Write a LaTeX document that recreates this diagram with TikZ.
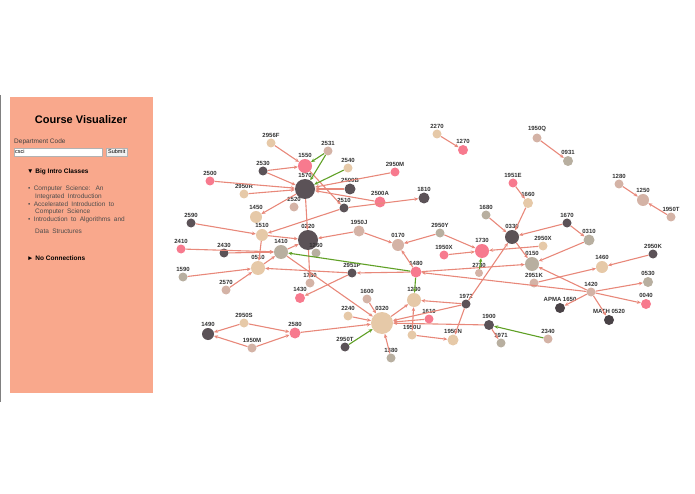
\documentclass[tikz,border=0pt]{standalone}
\usepackage{fontspec}
\setmainfont{Liberation Sans}
\usetikzlibrary{arrows.meta}
\definecolor{sidebar}{HTML}{F9A88C}
\definecolor{cpink}{HTML}{F77A8E}
\definecolor{cdark}{HTML}{5B5257}
\definecolor{ctan}{HTML}{E6C9A8}
\definecolor{crose}{HTML}{D4B3A6}
\definecolor{cgray}{HTML}{B8AFA0}
\definecolor{cedge}{HTML}{E8887A}
\definecolor{cgreen}{HTML}{5FA025}
\tikzset{
  course/.style={circle, inner sep=0pt, minimum size=9pt, label={[font=\fontsize{6}{6}\selectfont\bfseries, text=black!80, inner sep=1pt]above:#1}},
  big/.style={minimum size=14pt},
  huge/.style={minimum size=20pt},
  prereq/.style={cedge, line width=1.1pt, -{Stealth[length=4pt,width=3.5pt]}},
  coreq/.style={cgreen, line width=1.1pt, -{Stealth[length=4pt,width=3.5pt]}}
}
\begin{document}
\begin{tikzpicture}[x=1pt, y=-1pt]
\useasboundingbox (0,0) rectangle (695,494);
% side panel
\draw[gray, line width=0.8pt] (0.5,95) -- (0.5,402);
\fill[sidebar] (10,97) rectangle (153,393);
\node (title) at (81,120) {\fontsize{11}{11}\selectfont\bfseries Course Visualizer};
\node (dept) [anchor=west, text=black!75, inner sep=0pt] at (14,142) {\fontsize{6.5}{6.5}\selectfont Department Code};
\node (field) [draw=gray!60, fill=white, minimum width=88pt, minimum height=8pt, inner sep=0pt, anchor=west, text width=86pt] at (14,152) {\fontsize{5.5}{5.5}\selectfont csci};
\node (submit) [draw=gray!60, fill=gray!10, minimum height=8pt, inner sep=2pt, anchor=west] at (106,152) {\fontsize{5.5}{5.5}\selectfont Submit};
\node (intro) [anchor=west, inner sep=0pt] at (27,172) {\fontsize{6.5}{6.5}\selectfont\bfseries ▼ Big Intro Classes};
\node (list) [anchor=north west, inner sep=0pt, text width=112pt, text=black!70] at (28,186) {\fontsize{6.5}{7.6}\selectfont
  \textbullet\ Computer Science: An\\\hspace*{7pt}Integrated Introduction\\
  \textbullet\ Accelerated Introduction to\\\hspace*{7pt}Computer Science\\
  \textbullet\ Introduction to Algorithms and\\\hspace*{7pt}Data Structures};
\node (noconn) [anchor=west, inner sep=0pt] at (27,258) {\fontsize{6.5}{6.5}\selectfont\bfseries ► No Connections};
% course nodes
\node (c2956F) [course=2956F, fill=ctan] at (271,143) {};
\node (c2531) [course=2531, fill=crose] at (328,151) {};
\node (c1550) [course=1550, fill=cpink, big] at (305,166) {};
\node (c2540) [course=2540, fill=ctan] at (348,168) {};
\node (c2530) [course=2530, fill=cdark] at (263,171) {};
\node (c2950M) [course=2950M, fill=cpink] at (395,172) {};
\node (c2500) [course=2500, fill=cpink] at (210,181) {};
\node (c1570) [course=1570, fill=cdark, huge] at (305,189) {};
\node (c2500B) [course=2500B, fill=cdark, minimum size=11pt] at (350,189) {};
\node (c2950R) [course=2950R, fill=ctan] at (244,194) {};
\node (c2520) [course=2520, fill=crose] at (294,207) {};
\node (c2500A) [course=2500A, fill=cpink, minimum size=11pt] at (380,202) {};
\node (c2510) [course=2510, fill=cdark] at (344,208) {};
\node (c1810) [course=1810, fill=cdark, minimum size=11pt] at (424,198) {};
\node (c1450) [course=1450, fill=ctan, minimum size=12pt] at (256,217) {};
\node (c2590) [course=2590, fill=cdark] at (191,223) {};
\node (c1510) [course=1510, fill=ctan, minimum size=12pt] at (262,235) {};
\node (c1950J) [course=1950J, fill=crose, minimum size=11pt] at (359,231) {};
\node (c0220) [course=0220, fill=cdark, huge] at (308,240) {};
\node (c2410) [course=2410, fill=cpink] at (181,249) {};
\node (c2430) [course=2430, fill=cdark] at (224,253) {};
\node (c1410) [course=1410, fill=cgray, big] at (281,252) {};
\node (c1260) [course=1260, fill=cgray] at (316,253) {};
\node (c0170) [course=0170, fill=crose, minimum size=12pt] at (398,245) {};
\node (c0510) [course=0510, fill=ctan, big] at (258,268) {};
\node (c1590) [course=1590, fill=cgray] at (183,277) {};
\node (c2951P) [course=2951P, fill=cdark] at (352,273) {};
\node (c1780) [course=1780, fill=crose] at (310,283) {};
\node (c2570) [course=2570, fill=crose] at (226,290) {};
\node (c1430) [course=1430, fill=cpink, minimum size=10pt] at (300,298) {};
\node (c1480) [course=1480, fill=cpink, minimum size=11pt] at (416,272) {};
\node (c1600) [course=1600, fill=crose] at (367,299) {};
\node (c1230) [course=1230, fill=ctan, big] at (414,300) {};
\node (c2240) [course=2240, fill=ctan] at (348,316) {};
\node (c0320) [course=0320, fill=ctan, huge, minimum size=22pt] at (382,323) {};
\node (c1610) [course=1610, fill=cpink] at (429,319) {};
\node (c2950S) [course=2950S, fill=ctan] at (244,323) {};
\node (c2580) [course=2580, fill=cpink, minimum size=11pt] at (295,333) {};
\node (c1490) [course=1490, fill=cdark, minimum size=12pt] at (208,334) {};
\node (c1950M) [course=1950M, fill=crose] at (252,348) {};
\node (c2950T) [course=2950T, fill=cdark] at (345,347) {};
\node (c1950U) [course=1950U, fill=ctan] at (412,335) {};
\node (c1380) [course=1380, fill=cgray] at (391,358) {};
\node (c2270) [course=2270, fill=ctan] at (437,134) {};
\node (c1270) [course=1270, fill=cpink, minimum size=10pt] at (463,150) {};
\node (c1950Q) [course=1950Q, fill=crose] at (537,138) {};
\node (c0931) [course=0931, fill=cgray, minimum size=10pt] at (568,161) {};
\node (c1951E) [course=1951E, fill=cpink] at (513,183) {};
\node (c1660) [course=1660, fill=ctan, minimum size=10pt] at (528,203) {};
\node (c1280) [course=1280, fill=crose] at (619,184) {};
\node (c1250) [course=1250, fill=crose, minimum size=12pt] at (643,200) {};
\node (c1950T) [course=1950T, fill=crose] at (671,217) {};
\node (c1680) [course=1680, fill=cgray] at (486,215) {};
\node (c1670) [course=1670, fill=cdark] at (567,223) {};
\node (c0330) [course=0330, fill=cdark, big] at (512,237) {};
\node (c0310) [course=0310, fill=cgray, minimum size=11pt] at (589,240) {};
\node (c2950Y) [course=2950Y, fill=cgray] at (440,233) {};
\node (c1730) [course=1730, fill=cpink, big] at (482,251) {};
\node (c1950X) [course=1950X, fill=cpink] at (444,255) {};
\node (c2950X) [course=2950X, fill=ctan] at (543,246) {};
\node (c0150) [course=0150, fill=cgray, big] at (532,264) {};
\node (c2950K) [course=2950K, fill=cdark] at (653,254) {};
\node (c1460) [course=1460, fill=ctan, minimum size=12pt] at (602,267) {};
\node (c2730) [course=2730, fill=crose, minimum size=8pt] at (479,273) {};
\node (c2951K) [course=2951K, fill=crose] at (534,283) {};
\node (c0530) [course=0530, fill=cgray, minimum size=10pt] at (648,282) {};
\node (c1420) [course=1420, fill=crose] at (591,292) {};
\node (c0040) [course=0040, fill=cpink, minimum size=10pt] at (646,304) {};
\node (cAPMA) [course=APMA 1650, fill=cdark!80!black, minimum size=10pt] at (560,308) {};
\node (cMATH) [course=MATH 0520, fill=cdark!80!black, minimum size=10pt] at (609,320) {};
\node (c1972) [course=1972, fill=cdark] at (466,304) {};
\node (c1900) [course=1900, fill=cdark, minimum size=10pt] at (489,325) {};
\node (c1950N) [course=1950N, fill=ctan, minimum size=11pt] at (453,340) {};
\node (c1971) [course=1971, fill=cgray] at (501,343) {};
\node (c2340) [course=2340, fill=crose] at (548,339) {};
% prerequisites
\begin{scope}[on background layer/.style={}]
\draw [prereq] (c2956F) -- (c1550);
\draw [prereq] (c2530) -- (c1550);
\draw [prereq] (c2530) -- (c1570);
\draw [prereq] (c2500) -- (c1570);
\draw [prereq] (c2950R) -- (c1570);
\draw [prereq] (c2500B) -- (c1570);
\draw [prereq] (c2950M) -- (c1570);
\draw [prereq] (c2500A) -- (c1570);
\draw [prereq] (c1570) -- (c1450);
\draw [prereq] (c1550) -- (c2510);
\draw [prereq] (c2510) -- (c1810);
\draw [prereq] (c2510) -- (c1510);
\draw [prereq] (c1570) -- (c0220);
\draw [prereq] (c1950J) -- (c0220);
\draw [prereq] (c1950J) -- (c0170);
\draw [prereq] (c2590) -- (c1510);
\draw [prereq] (c1510) -- (c0220);
\draw [prereq] (c1510) -- (c0510);
\draw [prereq] (c2410) -- (c1410);
\draw [prereq] (c2430) -- (c1410);
\draw [prereq] (c1410) -- (c0220);
\draw [prereq] (c0220) -- (c1780);
\draw [prereq] (c1590) -- (c0510);
\draw [prereq] (c2570) -- (c0510);
\draw [prereq] (c0510) -- (c1410);
\draw [prereq] (c2951P) -- (c0510);
\draw [prereq] (c1480) -- (c2951P);
\draw [prereq] (c2951P) -- (c1430);
\draw [prereq] (c1410) -- (c0320);
\draw [prereq] (c1480) -- (c0170);
\draw [prereq] (c2950Y) -- (c0170);
\draw [prereq] (c2950Y) -- (c1730);
\draw [prereq] (c1950X) -- (c1730);
\draw [prereq] (c2950X) -- (c1730);
\draw [prereq] (c1480) -- (c0150);
\draw [prereq] (c1420) -- (c1480);
\draw [prereq] (c0310) -- (c0150);
\draw [prereq] (c1670) -- (c0310);
\draw [prereq] (c1670) -- (c0330);
\draw [prereq] (c1680) -- (c0330);
\draw [prereq] (c1951E) -- (c1660);
\draw [prereq] (c1660) -- (c0330);
\draw [prereq] (c0330) -- (c0150);
\draw [prereq] (c1420) -- (c0150);
\draw [prereq] (c2951K) -- (c1460);
\draw [prereq] (c2950K) -- (c1460);
\draw [prereq] (c1420) -- (c0530);
\draw [prereq] (c1420) -- (c0040);
\draw [prereq] (c1420) -- (cAPMA);
\draw [prereq] (c1420) -- (cMATH);
\draw [prereq] (c1972) -- (c0330);
\draw [prereq] (c1972) -- (c1230);
\draw [prereq] (c1972) -- (c0320);
\draw [prereq] (c1972) -- (c1950N);
\draw [prereq] (c1900) -- (c0320);
\draw [prereq] (c1900) -- (c1971);
\draw [prereq] (c1610) -- (c0320);
\draw [prereq] (c2240) -- (c0320);
\draw [prereq] (c1600) -- (c0320);
\draw [prereq] (c1380) -- (c0320);
\draw [prereq] (c2580) -- (c0320);
\draw [prereq] (c0320) -- (c1230);
\draw [prereq] (c1950U) -- (c1230);
\draw [prereq] (c1950U) -- (c1950N);
\draw [prereq] (c2950S) -- (c1490);
\draw [prereq] (c1950M) -- (c1490);
\draw [prereq] (c2950S) -- (c2580);
\draw [prereq] (c1950M) -- (c2580);
\draw [prereq] (c2270) -- (c1270);
\draw [prereq] (c1950Q) -- (c0931);
\draw [prereq] (c1280) -- (c1250);
\draw [prereq] (c1950T) -- (c1250);
\end{scope}
% corequisites
\draw [coreq] (c2531) -- (c1550);
\draw [coreq] (c2531) -- (c1570);
\draw [coreq] (c2540) -- (c1570);
\draw [coreq] (c1480) -- (c1410);
\draw [coreq] (c1480) -- (c1230);
\draw [coreq] (c2730) -- (c1730);
\draw [coreq] (c2950T) -- (c0320);
\draw [coreq] (c2340) -- (c1900);
\end{tikzpicture}
\end{document}
